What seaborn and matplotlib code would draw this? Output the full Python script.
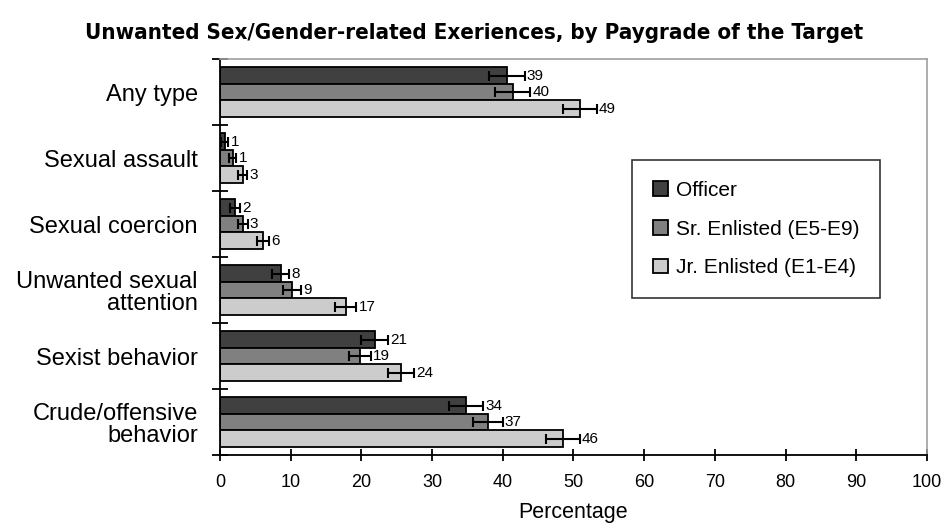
import numpy as np
import pandas as pd
import matplotlib
matplotlib.use("Agg")
import matplotlib.pyplot as plt
import seaborn as sns

# Data
categories = ["Any type", "Sexual assault", "Sexual coercion",
              "Unwanted sexual\nattention", "Sexist behavior",
              "Crude/offensive\nbehavior"]
groups = ["Officer", "Sr. Enlisted (E5-E9)", "Jr. Enlisted (E1-E4)"]

officer = [40.6, 0.7, 2.1, 8.6, 21.9, 34.8]
sr_enlisted = [41.4, 1.8, 3.2, 10.2, 19.8, 37.9]
jr_enlisted = [50.9, 3.2, 6.1, 17.8, 25.6, 48.5]

officer_err = [2.5, 0.5, 0.7, 1.2, 1.9, 2.45]
sr_err = [2.45, 0.5, 0.7, 1.3, 1.5, 2.1]
jr_err = [2.4, 0.6, 0.9, 1.5, 1.9, 2.4]

officer_lbl = [39, 1, 2, 8, 21, 34]
sr_lbl = [40, 1, 3, 9, 19, 37]
jr_lbl = [49, 3, 6, 17, 24, 46]

colors = ["#404040", "#808080", "#cccccc"]

sns.set_style("white")
plt.rcParams["font.family"] = ["Liberation Sans", "DejaVu Sans"]
plt.rcParams["text.color"] = "black"
plt.rcParams["xtick.color"] = "black"
plt.rcParams["ytick.color"] = "black"
plt.rcParams["axes.labelcolor"] = "black"

rows = []
for g, vals, errs, lbls in zip(groups, [officer, sr_enlisted, jr_enlisted],
                               [officer_err, sr_err, jr_err],
                               [officer_lbl, sr_lbl, jr_lbl]):
    for c, v, e, l in zip(categories, vals, errs, lbls):
        rows.append({"category": c, "group": g, "value": v, "err": e, "label": l})
df = pd.DataFrame(rows)

fig = plt.figure(figsize=(9.43, 5.25), dpi=100)
ax = fig.add_axes([0.2333, 0.1333, 0.7497, 0.7543])

sns.barplot(data=df, y="category", x="value", hue="group", order=categories,
            hue_order=groups, palette=colors, orient="h", width=0.75,
            errorbar=None, edgecolor="black", linewidth=1.3, ax=ax)

# error bars and value labels, placed on the bars seaborn drew
for cont, g in zip(ax.containers, groups):
    sub = df[df["group"] == g].set_index("category").loc[categories]
    ys = [p.get_y() + p.get_height() / 2 for p in cont.patches]
    ax.errorbar(sub["value"], ys, xerr=sub["err"], fmt="none", ecolor="black",
                elinewidth=1.5, capsize=3.5, capthick=1.5)
    for y, v, e, l in zip(ys, sub["value"], sub["err"], sub["label"]):
        ax.text(v + e + 0.3, y, str(l), va="center", ha="left", fontsize=11)

ax.set_xlim(0, 100)
ax.set_ylim(5.5, -0.5)
ax.set_xticks(np.arange(0, 101, 10))
ax.tick_params(axis="x", direction="inout", length=9, width=1.3,
               labelsize=13, pad=9, bottom=True)
ax.set_yticks(range(len(categories)))
ax.set_yticklabels(categories, fontsize=17, linespacing=1.0)
ax.tick_params(axis="y", which="major", length=0, pad=16)
ax.set_yticks(np.arange(-0.5, 6, 1), minor=True)
ax.tick_params(axis="y", which="minor", direction="inout", length=12,
               width=1.3, left=True)
ax.set_ylabel("")
ax.set_xlabel("Percentage", fontsize=15.5, labelpad=8)

for s in ["left", "bottom"]:
    ax.spines[s].set_color("black")
    ax.spines[s].set_linewidth(1.3)
for s in ["top", "right"]:
    ax.spines[s].set_color("#a0a0a0")
    ax.spines[s].set_linewidth(1.2)

leg = ax.legend(loc="upper left", bbox_to_anchor=(0.583, 0.745),
                borderaxespad=0, frameon=True, fancybox=False,
                edgecolor="black", fontsize=15, handlelength=0.7,
                handleheight=0.7, handletextpad=0.4, labelspacing=0.95,
                borderpad=1.0)
leg.get_frame().set_linewidth(1.2)

fig.text(0.503, 0.937, "Unwanted Sex/Gender-related Exeriences, by Paygrade of the Target",
         ha="center", va="center", fontsize=16, fontweight="bold",
         family="DejaVu Sans", fontstretch="condensed")

fig.savefig("out.png", dpi=100)
